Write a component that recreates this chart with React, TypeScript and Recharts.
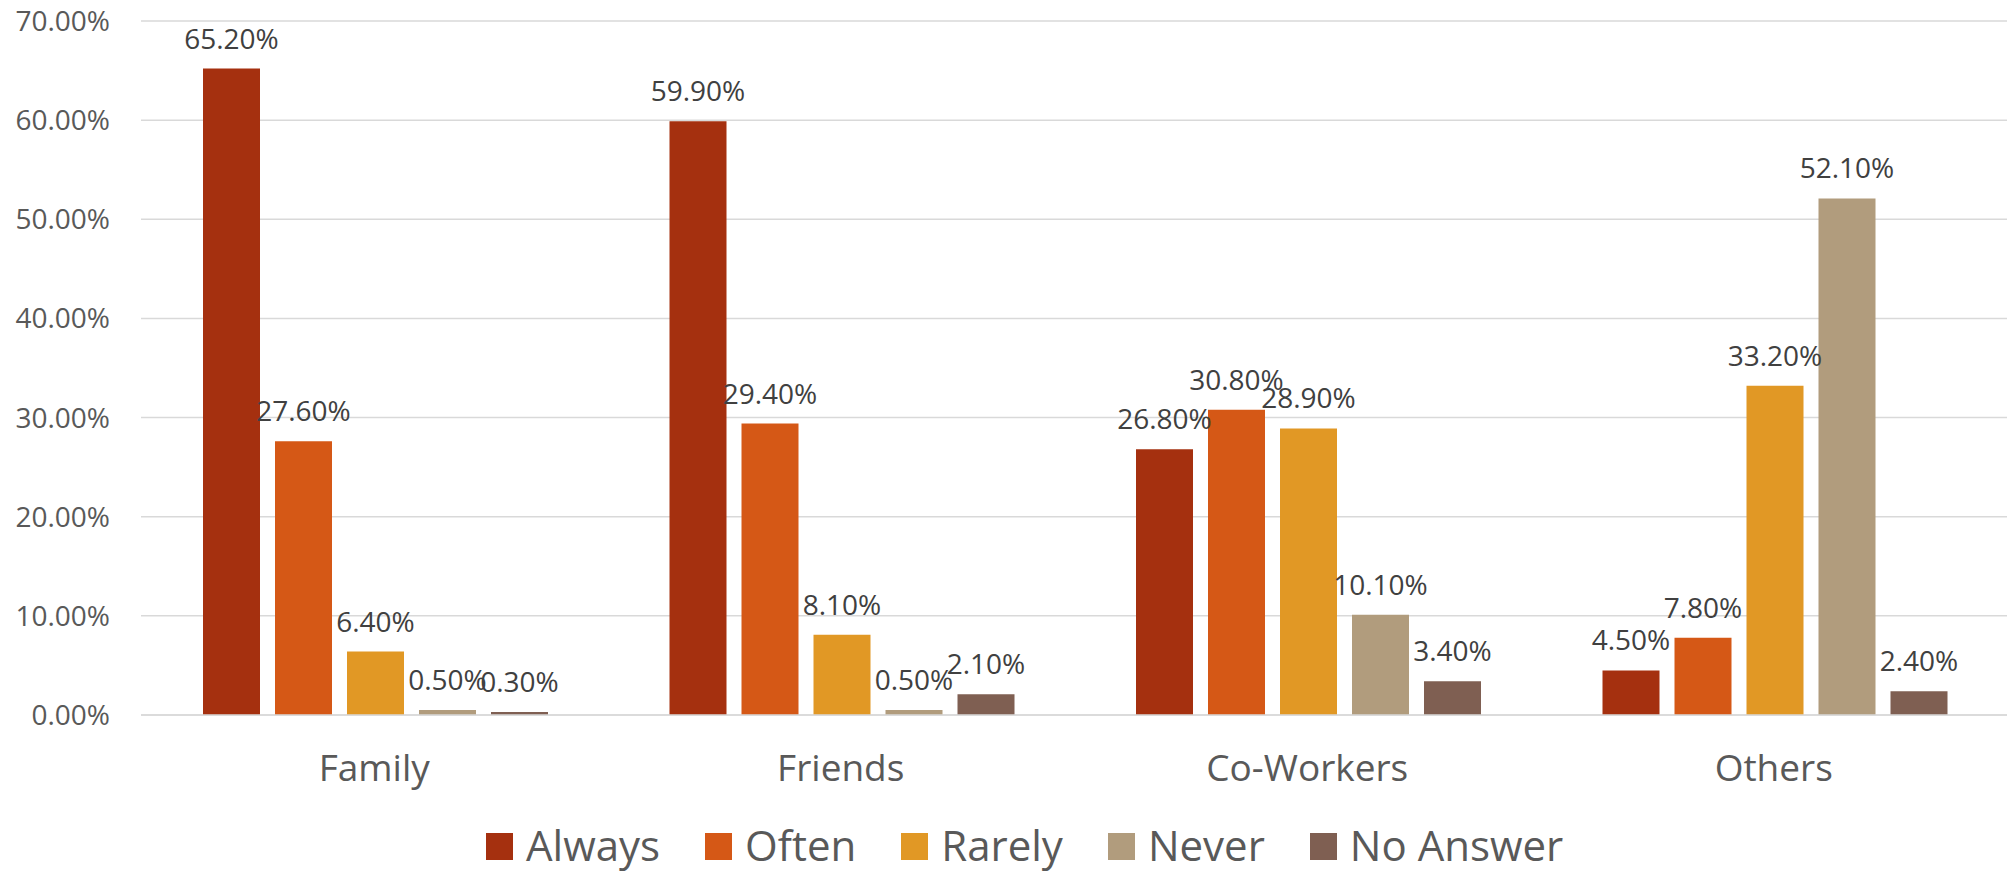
import { BarChart, Bar, XAxis, YAxis, CartesianGrid, Legend, LabelList } from 'recharts';

const categories = ['Family', 'Friends', 'Co-Workers', 'Others'];
const always = [65.2, 59.9, 26.8, 4.5];
const often = [27.6, 29.4, 30.8, 7.8];
const rarely = [6.4, 8.1, 28.9, 33.2];
const never = [0.5, 0.5, 10.1, 52.1];
const noAnswer = [0.3, 2.1, 3.4, 2.4];
const yTicks = [0, 10, 20, 30, 40, 50, 60, 70];

const series = [
  { key: 'always', name: 'Always', color: '#A5300F' },
  { key: 'often', name: 'Often', color: '#D55816' },
  { key: 'rarely', name: 'Rarely', color: '#E19825' },
  { key: 'never', name: 'Never', color: '#B19C7D' },
  { key: 'noAnswer', name: 'No Answer', color: '#7F5F52' },
];

const data = categories.map((name, i) => ({
  name,
  always: always[i],
  often: often[i],
  rarely: rarely[i],
  never: never[i],
  noAnswer: noAnswer[i],
}));

const FONT = '"Open Sans", sans-serif';
const pct = (v: number) => `${Number(v).toFixed(2)}%`;

function ChartLegend() {
  return (
    <div
      style={{
        width: 2009,
        height: 76,
        boxSizing: 'border-box',
        paddingTop: 29,
        paddingLeft: 486,
        display: 'flex',
        alignItems: 'flex-start',
        fontFamily: FONT,
      }}
    >
      {series.map((s) => (
        <div key={s.key} style={{ display: 'flex', alignItems: 'flex-start', marginRight: 45 }}>
          <div style={{ width: 27, height: 27, background: s.color, marginTop: 9, marginRight: 13 }} />
          <span style={{ fontSize: 42, lineHeight: '42px', color: '#595959' }}>{s.name}</span>
        </div>
      ))}
    </div>
  );
}

export default function App() {
  return (
    <div style={{ width: 2009, height: 871, background: '#fff' }}>
      <style>{`body{margin:0}`}</style>
      <BarChart
        width={2009}
        height={871}
        data={data}
        margin={{ top: 21, right: 2, bottom: 0, left: 0 }}
        barCategoryGap={62}
        barGap={15}
      >
        <CartesianGrid vertical={false} stroke="#D9D9D9" strokeWidth={1.5} />
        <XAxis
          dataKey="name"
          height={80}
          tickLine={false}
          tickSize={0}
          tickMargin={40}
          axisLine={{ stroke: '#D9D9D9', strokeWidth: 1.5 }}
          tick={{ fill: '#595959', fontSize: 37, fontFamily: FONT }}
        />
        <YAxis
          width={141}
          domain={[0, 70]}
          ticks={yTicks}
          interval={0}
          tickFormatter={pct}
          axisLine={false}
          tickLine={false}
          tickSize={0}
          tickMargin={31}
          tick={{ fill: '#595959', fontSize: 28, fontFamily: FONT }}
        />
        <Legend
          verticalAlign="bottom"
          content={() => <ChartLegend />}
          wrapperStyle={{ left: 0, width: 2009, height: 76 }}
        />
        {series.map((s) => (
          <Bar key={s.key} dataKey={s.key} name={s.name} fill={s.color} isAnimationActive={false}>
            <LabelList
              dataKey={s.key}
              position="top"
              offset={20}
              formatter={pct}
              style={{ fill: '#404040', fontSize: 28, fontFamily: FONT }}
            />
          </Bar>
        ))}
      </BarChart>
    </div>
  );
}
